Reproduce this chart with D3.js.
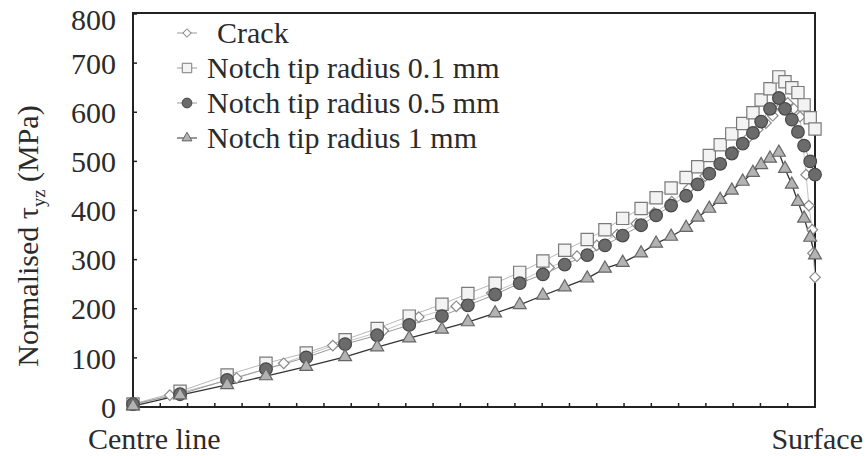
<!DOCTYPE html>
<html>
<head>
<meta charset="utf-8">
<script src="https://cdn.jsdelivr.net/npm/d3@7"></script>
<style>
  body { margin: 0; background: #fff; }
  svg text { font-family: "Liberation Serif", "DejaVu Serif", Tinos, Times, serif; fill: #2b2b2b; }
</style>
</head>
<body>
<svg id="chart"></svg>
<script>
// normalised distance from centre line (0) to surface (1)
const gridX = [0, 0.069, 0.138, 0.195, 0.254, 0.311, 0.358, 0.405, 0.453, 0.491, 0.531, 0.567,
  0.601, 0.633, 0.666, 0.692, 0.718, 0.745, 0.767, 0.789, 0.811, 0.828, 0.845, 0.861, 0.878,
  0.894, 0.909, 0.921, 0.934, 0.947, 0.956, 0.966, 0.975, 0.984, 0.993, 1.0];
const crackX = [0, 0.054, 0.152, 0.221, 0.293, 0.367, 0.419, 0.474, 0.526, 0.570, 0.610, 0.651,
  0.680, 0.710, 0.738, 0.764, 0.790, 0.815, 0.839, 0.861, 0.881, 0.900, 0.916, 0.928, 0.938,
  0.950, 0.960, 0.969, 0.978, 0.987, 0.991, 0.996, 0.997, 1.0];

// normalised tau_yz (MPa)
const crack = [4, 24, 59, 89, 125, 155, 183, 205, 232, 258, 284, 307, 329, 351, 373, 395, 418,
  445, 470, 495, 520, 545, 565, 578, 593, 610, 619, 607, 591, 473, 410, 361, 313, 264];
const notch01 = [6, 32, 65, 89, 110, 137, 160, 185, 209, 231, 252, 274, 297, 319, 341, 361, 384,
  404, 426, 446, 467, 489, 512, 534, 556, 577, 599, 625, 648, 672, 662, 650, 640, 615, 589, 566];
const notch05 = [6, 26, 55, 77, 101, 128, 146, 167, 185, 207, 229, 252, 270, 290, 309, 329, 349,
  370, 390, 410, 430, 453, 475, 495, 516, 536, 558, 581, 607, 629, 607, 585, 560, 532, 500, 473];
const notch1 = [2, 24, 45, 63, 82, 102, 122, 140, 158, 173, 191, 208, 227, 244, 262, 282, 294,
  313, 333, 347, 365, 386, 404, 422, 441, 459, 477, 493, 506, 518, 485, 453, 418, 384, 345, 309];

const yTicks = [0, 100, 200, 300, 400, 500, 600, 700, 800];
const xTicks = d3.range(0, 25).map(i => i / 25);
const legendLabels = ['Crack', 'Notch tip radius 0.1 mm', 'Notch tip radius 0.5 mm', 'Notch tip radius 1 mm'];

let width = 868;
let height = 456;
let margin = {left: 133, right: 53, top: 14, bottom: 49};
const serif = '"Liberation Serif", "DejaVu Serif", Tinos, Times, serif';

let svg = d3.select('#chart').attr('width', width).attr('height', height);

let xScale = d3.scaleLinear().domain([0, 1]).range([margin.left, width - margin.right]);
let yScale = d3.scaleLinear().domain([0, 800]).range([height - margin.bottom, margin.top]);

// series styles
const series = [
  {name: legendLabels[0], xs: crackX, ys: crack, sym: d3.symbolSquare, size: 56, rot: 45,
    fill: '#ffffff', stroke: '#8a8a8a', line: '#c4c4c4', lw: 1},
  {name: legendLabels[1], xs: gridX, ys: notch01, sym: d3.symbolSquare, size: 150, rot: 0,
    fill: '#f3f3f3', stroke: '#7a7a7a', line: '#b8b8b8', lw: 1},
  {name: legendLabels[2], xs: gridX, ys: notch05, sym: d3.symbolCircle, size: 125, rot: 0,
    fill: '#6b6b6b', stroke: '#474747', line: '#9a9a9a', lw: 1},
  {name: legendLabels[3], xs: gridX, ys: notch1, sym: d3.symbolTriangle, size: 72, rot: 0,
    fill: '#b3b3b3', stroke: '#666666', line: '#333333', lw: 1.3}
];

// frame
svg.append('rect')
  .attr('x', xScale(0)).attr('y', yScale(800) - 1)
  .attr('width', xScale(1) - xScale(0)).attr('height', yScale(0) - yScale(800) + 1)
  .attr('fill', 'none').attr('stroke', '#222').attr('stroke-width', 2);

// axes with inward ticks
let yAxis = d3.axisLeft(yScale).tickValues(yTicks).tickSize(0).tickPadding(17);
let gy = svg.append('g').attr('transform', 'translate(' + xScale(0) + ',0)').call(yAxis)
  .attr('font-family', serif).attr('font-size', 30);
gy.select('.domain').remove();
gy.selectAll('text')
  .style('font-family', serif)
  .attr('font-size', 30)
  .attr('fill', '#2b2b2b')
  .attr('dy', d => d === 800 ? '0.5em' : '0.34em');

svg.append('g').selectAll('line').data(yTicks).enter().append('line')
  .attr('x1', xScale(0)).attr('x2', xScale(0) + 4)
  .attr('y1', d => yScale(d)).attr('y2', d => yScale(d))
  .attr('stroke', '#222').attr('stroke-width', 1.5);

svg.append('g').selectAll('line').data(xTicks).enter().append('line')
  .attr('x1', d => xScale(d)).attr('x2', d => xScale(d))
  .attr('y1', yScale(0)).attr('y2', yScale(0) - 4)
  .attr('stroke', '#222').attr('stroke-width', 1.5);

// lines then markers
let line = d3.line().x(d => xScale(d[0])).y(d => yScale(d[1]));

series.forEach(s => {
  let pts = s.xs.map((x, i) => [x, s.ys[i]]);
  svg.append('path')
    .attr('d', line(pts))
    .attr('fill', 'none')
    .attr('stroke', s.line)
    .attr('stroke-width', s.lw);
});

series.forEach(s => {
  let pts = s.xs.map((x, i) => [x, s.ys[i]]);
  svg.append('g').selectAll('path').data(pts).enter().append('path')
    .attr('d', d3.symbol().type(s.sym).size(s.size))
    .attr('transform', d => 'translate(' + xScale(d[0]) + ',' + yScale(d[1]) + ') rotate(' + s.rot + ')')
    .attr('fill', s.fill)
    .attr('stroke', s.stroke)
    .attr('stroke-width', 1.2);
});

// legend
let legend = svg.append('g');
series.forEach((s, i) => {
  let y = 33 + i * 35;
  legend.append('line')
    .attr('x1', 177).attr('x2', 197).attr('y1', y).attr('y2', y)
    .attr('stroke', s.line === '#333333' ? '#333' : '#999').attr('stroke-width', 1);
  legend.append('path')
    .attr('d', d3.symbol().type(s.sym).size(s.size * 0.6))
    .attr('transform', 'translate(187,' + y + ') rotate(' + s.rot + ')')
    .attr('fill', s.fill).attr('stroke', s.stroke).attr('stroke-width', 1);
  legend.append('text')
    .attr('x', i === 0 ? 217 : 207).attr('y', y + 10)
    .style('font-family', serif)
    .attr('font-size', 30)
    .text(s.name);
});

// axis labels
svg.append('text')
  .attr('x', 88).attr('y', 449)
  .style('font-family', serif)
  .attr('font-size', 30)
  .text('Centre line');

svg.append('text')
  .attr('x', 863).attr('y', 449)
  .attr('text-anchor', 'end')
  .style('font-family', serif)
  .attr('font-size', 30)
  .text('Surface');

// y label: fit it to the span it has in the original (about y 88..385)
let yl = svg.append('text')
  .attr('text-anchor', 'start')
  .style('font-family', serif)
  .attr('font-size', 29);
yl.append('tspan').text('Normalised \u03c4');
yl.append('tspan').attr('font-size', '0.62em').attr('dy', 7).text('yz');
yl.append('tspan').attr('dy', -7).text(' (MPa)');
let labelLen = yl.node().getComputedTextLength();
let fs = Math.min(30, Math.max(24, 29 * 297 / labelLen));
yl.attr('font-size', fs);
labelLen = yl.node().getComputedTextLength();
yl.attr('transform', 'translate(38,' + (236 + labelLen / 2) + ') rotate(-90)');
</script>
</body>
</html>
